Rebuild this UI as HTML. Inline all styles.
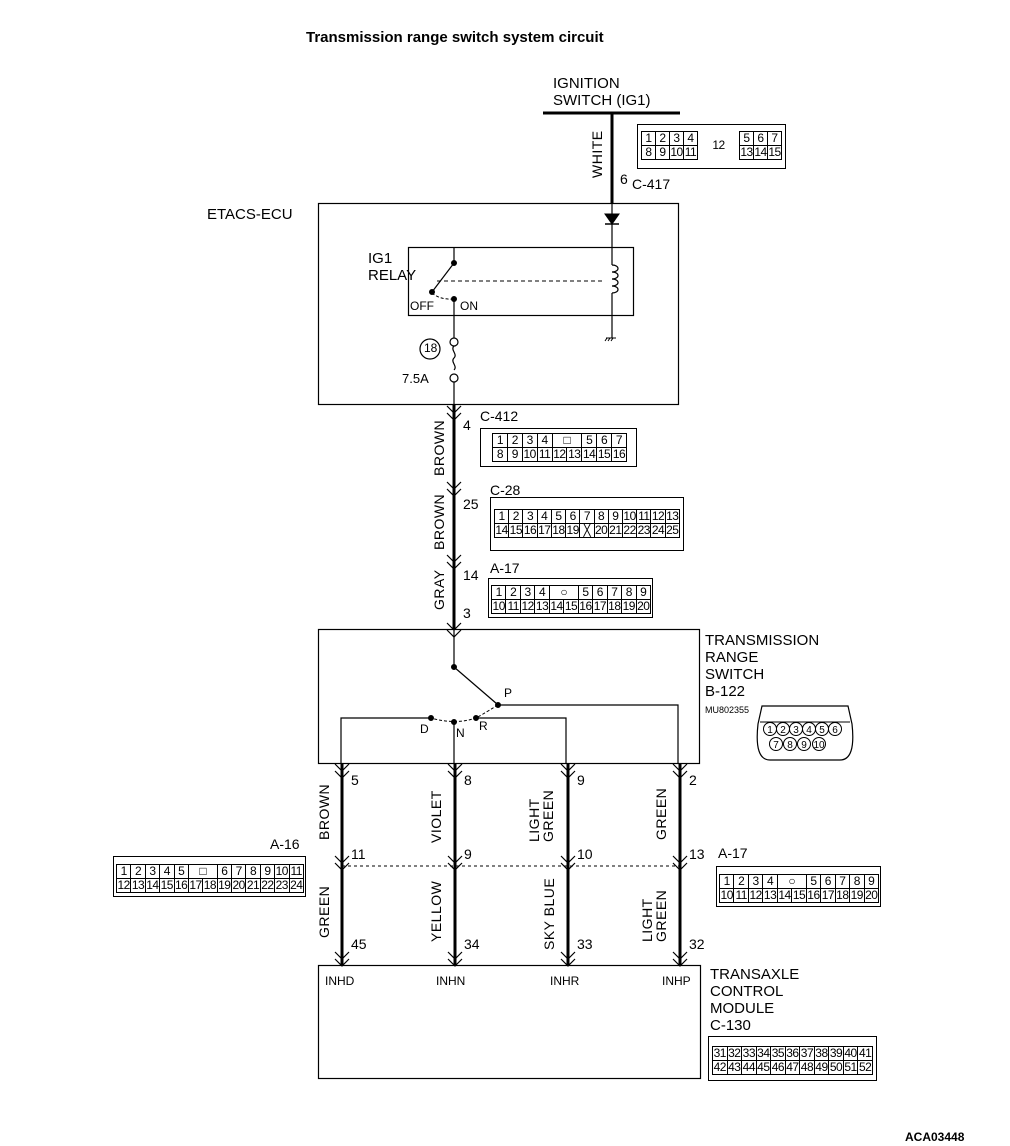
<!DOCTYPE html>
<html><head><meta charset="utf-8"><style>
body{margin:0;background:#fff;width:1010px;height:1146px;position:relative;overflow:hidden;font-family:"Liberation Sans",sans-serif;color:#000}
.t{position:absolute;font-size:15px;line-height:17px;white-space:nowrap}
.s{position:absolute;font-size:14px;white-space:nowrap}
.cn{position:absolute;border:1px solid #000;background:#fff}
.cn table{position:absolute;border-collapse:collapse;table-layout:fixed}
.cn td{border:1px solid #000;font-size:12px;line-height:13px;height:13px;padding:0;text-align:center;overflow:hidden;letter-spacing:-0.5px}
.r{position:absolute;font-size:14px;transform-origin:0 0;transform:rotate(-90deg);white-space:nowrap;letter-spacing:0.5px}
</style></head><body>
<svg width="1010" height="1146" style="position:absolute;left:0;top:0" fill="none" stroke="#000">
<line x1="543" y1="113" x2="680" y2="113" stroke-width="3"/>
<line x1="612" y1="113" x2="612" y2="203" stroke-width="3"/>
<rect x="318.5" y="203.5" width="360" height="201" stroke-width="1.2"/>
<rect x="408.5" y="247.5" width="225" height="68" stroke-width="1.2"/>
<line x1="612" y1="203" x2="612" y2="265" stroke-width="1.2"/>
<polygon points="605,214 619,214 612,224" fill="#000"/>
<line x1="605" y1="224" x2="619" y2="224" stroke-width="1.5"/>
<path d="M612,265 c8,0 8,7 0,7 c8,0 8,7 0,7 c8,0 8,7 0,7 c8,0 8,7 0,7" stroke-width="1.2"/>
<line x1="612" y1="293" x2="612" y2="338" stroke-width="1.2"/>
<line x1="606" y1="338" x2="616" y2="338"/><line x1="607" y1="338" x2="605" y2="341"/><line x1="610" y1="338" x2="608" y2="341"/><line x1="613" y1="338" x2="611" y2="341"/>
<line x1="454" y1="247" x2="454" y2="263" stroke-width="1.2"/>
<circle cx="454" cy="263" r="2.5" fill="#000"/>
<line x1="454" y1="263" x2="432" y2="292" stroke-width="1.2"/>
<circle cx="432" cy="292" r="2.5" fill="#000"/>
<line x1="437" y1="281" x2="605" y2="281" stroke-dasharray="4,3"/>
<path d="M432,293 Q440,300 454,299" stroke-dasharray="3,2"/>
<circle cx="454" cy="299" r="2.5" fill="#000"/>
<line x1="454" y1="299" x2="454" y2="338" stroke-width="1.2"/>
<circle cx="454" cy="342" r="4" stroke-width="1.2"/>
<path d="M454,346 c-4,4 4,8 0,12 c-4,4 4,8 0,12" stroke-width="1.2"/>
<circle cx="454" cy="378" r="4" stroke-width="1.2"/>
<line x1="454" y1="382" x2="454" y2="405" stroke-width="1.2"/>
<circle cx="430" cy="349" r="10" stroke-width="1.2"/>
<line x1="454" y1="405" x2="454" y2="629" stroke-width="3"/>
<g stroke-width="1.2">
<path d="M447,406 L454,413 L461,406"/><path d="M447,413 L454,420 L461,413"/>
<path d="M447,482 L454,489 L461,482"/><path d="M447,489 L454,496 L461,489"/>
<path d="M447,555 L454,562 L461,555"/><path d="M447,562 L454,569 L461,562"/>
<path d="M447,623 L454,630 L461,623"/><path d="M447,630 L454,637 L461,630"/>
</g>
<rect x="318.5" y="629.5" width="381" height="134" stroke-width="1.2"/>
<line x1="454" y1="629" x2="454" y2="667" stroke-width="1.2"/>
<circle cx="454" cy="667" r="2.5" fill="#000"/>
<line x1="454" y1="667" x2="497" y2="704" stroke-width="1.2"/>
<circle cx="498" cy="705" r="2.5" fill="#000"/>
<polyline points="498,705 678,705 678,763" stroke-width="1.2"/>
<path d="M498,705 Q480,716 476,718 Q455,725 431,718" stroke-dasharray="3,2"/>
<circle cx="431" cy="718" r="2.5" fill="#000"/><circle cx="454" cy="722" r="2.5" fill="#000"/><circle cx="476" cy="718" r="2.5" fill="#000"/>
<polyline points="431,718 341,718 341,763" stroke-width="1.2"/>
<polyline points="476,718 566,718 566,763" stroke-width="1.2"/>
<line x1="454" y1="722" x2="454" y2="763" stroke-width="1.2"/>
<g stroke-width="3"><line x1="342" y1="763" x2="342" y2="965"/><line x1="455" y1="763" x2="455" y2="965"/><line x1="568" y1="763" x2="568" y2="965"/><line x1="680" y1="763" x2="680" y2="965"/></g>
<g stroke-width="1.2">
<path d="M335,764 L342,771 L349,764"/><path d="M335,771 L342,778 L349,771"/>
<path d="M448,764 L455,771 L462,764"/><path d="M448,771 L455,778 L462,771"/>
<path d="M561,764 L568,771 L575,764"/><path d="M561,771 L568,778 L575,771"/>
<path d="M673,764 L680,771 L687,764"/><path d="M673,771 L680,778 L687,771"/>
<path d="M335,856 L342,863 L349,856"/><path d="M335,863 L342,870 L349,863"/>
<path d="M448,856 L455,863 L462,856"/><path d="M448,863 L455,870 L462,863"/>
<path d="M561,856 L568,863 L575,856"/><path d="M561,863 L568,870 L575,863"/>
<path d="M673,856 L680,863 L687,856"/><path d="M673,863 L680,870 L687,863"/>
<path d="M335,952 L342,959 L349,952"/><path d="M335,959 L342,966 L349,959"/>
<path d="M448,952 L455,959 L462,952"/><path d="M448,959 L455,966 L462,959"/>
<path d="M561,952 L568,959 L575,952"/><path d="M561,959 L568,966 L575,959"/>
<path d="M673,952 L680,959 L687,952"/><path d="M673,959 L680,966 L687,959"/>
</g>
<line x1="342" y1="866" x2="680" y2="866" stroke-dasharray="3,3"/>
<rect x="318.5" y="965.5" width="382" height="113" stroke-width="1.2"/>
<path d="M762,706 L848,706 L852,724 Q856,760 840,760 L770,760 Q754,760 758,724 Z" stroke-width="1.2"/>
<line x1="760" y1="722" x2="850" y2="722"/>
<g stroke-width="1"><circle cx="770" cy="729" r="6.5"/><circle cx="783" cy="729" r="6.5"/><circle cx="796" cy="729" r="6.5"/><circle cx="809" cy="729" r="6.5"/><circle cx="822" cy="729" r="6.5"/><circle cx="835" cy="729" r="6.5"/>
<circle cx="776" cy="744" r="6.5"/><circle cx="790" cy="744" r="6.5"/><circle cx="804" cy="744" r="6.5"/><circle cx="819" cy="744" r="6.5"/></g>
<g font-family="Liberation Sans" font-size="10" fill="#000" stroke="none" text-anchor="middle">
<text x="770" y="733">1</text><text x="783" y="733">2</text><text x="796" y="733">3</text><text x="809" y="733">4</text><text x="822" y="733">5</text><text x="835" y="733">6</text>
<text x="776" y="748">7</text><text x="790" y="748">8</text><text x="804" y="748">9</text><text x="819" y="748">10</text></g>
</svg>

<div class="t" style="left:306px;top:29px;font-weight:bold">Transmission range switch system circuit</div>
<div class="t" style="left:553px;top:75px">IGNITION<br>SWITCH (IG1)</div>
<div class="r" style="left:589px;top:178px">WHITE</div>
<div class="s" style="left:620px;top:171px">6</div>
<div class="s" style="left:632px;top:176px">C-417</div>
<div class="t" style="left:207px;top:206px">ETACS-ECU</div>
<div class="t" style="left:368px;top:250px">IG1<br>RELAY</div>
<div class="s" style="left:410px;top:299px;font-size:12px">OFF</div>
<div class="s" style="left:460px;top:299px;font-size:12px">ON</div>
<div class="s" style="left:424px;top:341px;font-size:12px">18</div>
<div class="s" style="left:402px;top:371px;font-size:13px">7.5A</div>

<div class="s" style="left:463px;top:417px">4</div>
<div class="s" style="left:480px;top:408px">C-412</div>
<div class="r" style="left:431px;top:476px">BROWN</div>
<div class="s" style="left:463px;top:496px">25</div>
<div class="s" style="left:490px;top:482px">C-28</div>
<div class="r" style="left:431px;top:550px">BROWN</div>
<div class="s" style="left:463px;top:567px">14</div>
<div class="s" style="left:490px;top:560px">A-17</div>
<div class="r" style="left:431px;top:610px">GRAY</div>
<div class="s" style="left:463px;top:605px">3</div>

<div class="t" style="left:705px;top:632px">TRANSMISSION<br>RANGE<br>SWITCH<br>B-122</div>
<div class="s" style="left:705px;top:705px;font-size:9px">MU802355</div>
<div class="s" style="left:420px;top:722px;font-size:12px">D</div>
<div class="s" style="left:456px;top:726px;font-size:12px">N</div>
<div class="s" style="left:479px;top:719px;font-size:12px">R</div>
<div class="s" style="left:504px;top:686px;font-size:12px">P</div>

<div class="s" style="left:351px;top:772px">5</div><div class="s" style="left:464px;top:772px">8</div><div class="s" style="left:577px;top:772px">9</div><div class="s" style="left:689px;top:772px">2</div>
<div class="r" style="left:316px;top:840px">BROWN</div>
<div class="r" style="left:428px;top:843px">VIOLET</div>
<div class="r" style="left:527px;top:842px;line-height:14px">LIGHT<br>GREEN</div>
<div class="r" style="left:653px;top:840px">GREEN</div>
<div class="s" style="left:351px;top:846px">11</div><div class="s" style="left:464px;top:846px">9</div><div class="s" style="left:577px;top:846px">10</div><div class="s" style="left:689px;top:846px">13</div>
<div class="s" style="left:270px;top:836px">A-16</div>
<div class="s" style="left:718px;top:845px">A-17</div>
<div class="r" style="left:316px;top:938px">GREEN</div>
<div class="r" style="left:428px;top:942px">YELLOW</div>
<div class="r" style="left:541px;top:950px">SKY BLUE</div>
<div class="r" style="left:640px;top:942px;line-height:14px">LIGHT<br>GREEN</div>
<div class="s" style="left:351px;top:936px">45</div><div class="s" style="left:464px;top:936px">34</div><div class="s" style="left:577px;top:936px">33</div><div class="s" style="left:689px;top:936px">32</div>
<div class="s" style="left:325px;top:974px;font-size:12px">INHD</div>
<div class="s" style="left:436px;top:974px;font-size:12px">INHN</div>
<div class="s" style="left:550px;top:974px;font-size:12px">INHR</div>
<div class="s" style="left:662px;top:974px;font-size:12px">INHP</div>
<div class="t" style="left:710px;top:966px">TRANSAXLE<br>CONTROL<br>MODULE<br>C-130</div>
<div class="s" style="left:905px;top:1130px;font-size:12px;font-weight:bold">ACA03448</div>

<!-- C-417 -->
<div class="cn" style="left:637px;top:124px;width:147px;height:43px">
<table style="left:3px;top:6px;width:140px"><col style="width:14px"><col style="width:14px"><col style="width:14px"><col style="width:14px"><col style="width:42px"><col style="width:14px"><col style="width:14px"><col style="width:14px">
<tr><td>1</td><td>2</td><td>3</td><td>4</td><td rowspan="2" style="border-top:none;border-bottom:none">12</td><td>5</td><td>6</td><td>7</td></tr>
<tr><td>8</td><td>9</td><td>10</td><td>11</td><td>13</td><td>14</td><td>15</td></tr></table></div>
<!-- C-412 -->
<div class="cn" style="left:480px;top:428px;width:155px;height:37px">
<table style="left:11px;top:4px;width:135px">
<tr><td>1</td><td>2</td><td>3</td><td>4</td><td colspan="2">&#9633;</td><td>5</td><td>6</td><td>7</td></tr>
<tr><td>8</td><td>9</td><td>10</td><td>11</td><td>12</td><td>13</td><td>14</td><td>15</td><td>16</td></tr></table></div>
<!-- C-28 -->
<div class="cn" style="left:490px;top:497px;width:192px;height:52px">
<table style="left:3px;top:11px;width:186px"><tr><td>1</td><td>2</td><td>3</td><td>4</td><td>5</td><td>6</td><td>7</td><td>8</td><td>9</td><td>10</td><td>11</td><td>12</td><td>13</td></tr>
<tr><td>14</td><td>15</td><td>16</td><td>17</td><td>18</td><td>19</td><td>&#9587;</td><td>20</td><td>21</td><td>22</td><td>23</td><td>24</td><td>25</td></tr></table></div>
<!-- A-17 top -->
<div class="cn" style="left:488px;top:578px;width:163px;height:38px">
<table style="left:2px;top:6px;width:160px"><tr><td>1</td><td>2</td><td>3</td><td>4</td><td colspan="2">&#9675;</td><td>5</td><td>6</td><td>7</td><td>8</td><td>9</td></tr>
<tr><td>10</td><td>11</td><td>12</td><td>13</td><td>14</td><td>15</td><td>16</td><td>17</td><td>18</td><td>19</td><td>20</td></tr></table></div>
<!-- A-16 -->
<div class="cn" style="left:113px;top:856px;width:191px;height:39px">
<table style="left:2px;top:7px;width:188px"><tr><td>1</td><td>2</td><td>3</td><td>4</td><td>5</td><td colspan="2">&#9633;</td><td>6</td><td>7</td><td>8</td><td>9</td><td>10</td><td>11</td></tr>
<tr><td>12</td><td>13</td><td>14</td><td>15</td><td>16</td><td>17</td><td>18</td><td>19</td><td>20</td><td>21</td><td>22</td><td>23</td><td>24</td></tr></table></div>
<!-- A-17 lower -->
<div class="cn" style="left:716px;top:866px;width:163px;height:39px">
<table style="left:2px;top:7px;width:160px"><tr><td>1</td><td>2</td><td>3</td><td>4</td><td colspan="2">&#9675;</td><td>5</td><td>6</td><td>7</td><td>8</td><td>9</td></tr>
<tr><td>10</td><td>11</td><td>12</td><td>13</td><td>14</td><td>15</td><td>16</td><td>17</td><td>18</td><td>19</td><td>20</td></tr></table></div>
<!-- C-130 -->
<div class="cn" style="left:708px;top:1036px;width:167px;height:43px">
<table style="left:3px;top:9px;width:161px"><tr><td>31</td><td>32</td><td>33</td><td>34</td><td>35</td><td>36</td><td>37</td><td>38</td><td>39</td><td>40</td><td>41</td></tr>
<tr><td>42</td><td>43</td><td>44</td><td>45</td><td>46</td><td>47</td><td>48</td><td>49</td><td>50</td><td>51</td><td>52</td></tr></table></div>
</body></html>
